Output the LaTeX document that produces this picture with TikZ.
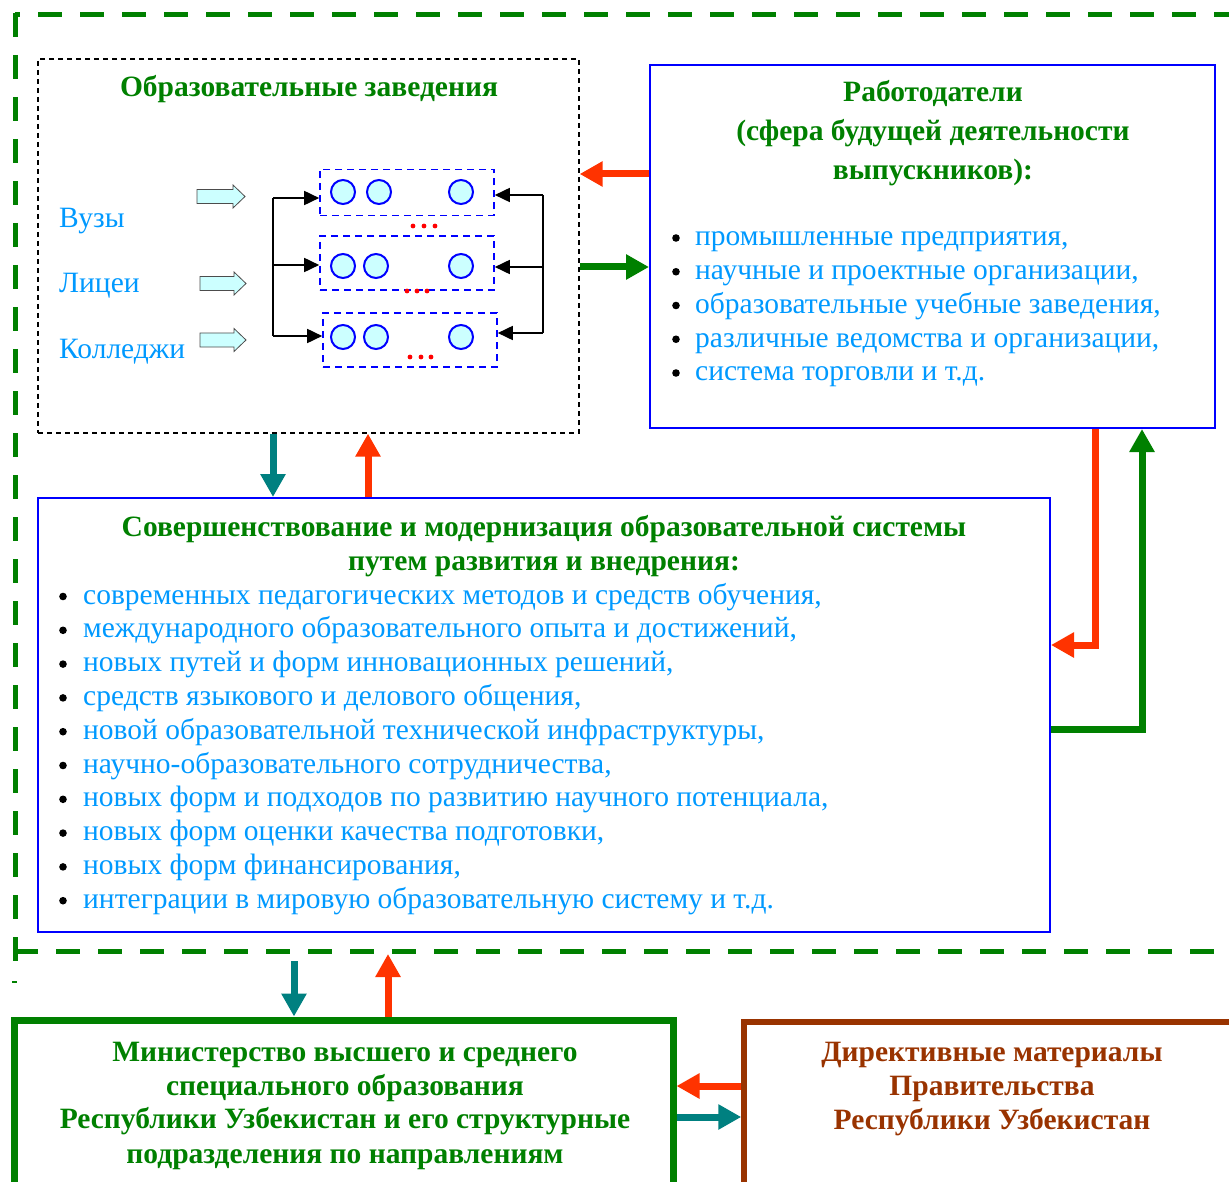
\documentclass[tikz,border=0pt]{standalone}
\usepackage{fontspec}
\setmainfont{Liberation Serif}
\usetikzlibrary{arrows.meta,calc}
\definecolor{dgreen}{RGB}{0,128,0}
\definecolor{tblue}{RGB}{0,153,255}
\definecolor{ared}{RGB}{255,51,0}
\definecolor{tealc}{RGB}{0,128,128}
\definecolor{brownc}{RGB}{153,51,0}
\definecolor{lcyan}{RGB}{204,255,255}
\begin{document}
\begin{tikzpicture}[x=1pt,y=-1pt,
  txt/.style={font=\fontsize{29.5}{34}\selectfont, text=tblue, inner sep=0pt, anchor=base west},
  ttl/.style={font=\fontsize{29.5}{34}\selectfont\bfseries, text=dgreen, inner sep=0pt, anchor=base},
  bigarr/.style={line width=7pt, -{Triangle[length=23pt,width=24pt]}},
  smallarr/.style={line width=1.7pt, -{Triangle[length=15pt,width=14pt]}},
  outer/.style={draw=dgreen, line width=5pt, dash pattern=on 24pt off 18pt},
  sbox/.style={draw=blue, line width=1.6pt, dash pattern=on 7pt off 5pt, minimum width=174pt, inner sep=0pt},
  circ/.style={circle, draw=blue, line width=2pt, fill=lcyan, minimum size=24pt, inner sep=0pt},
  bul/.style={fill=black}
]
\useasboundingbox (0,0) rectangle (1229,1182);

% outer dashed frame
\draw[outer] (15,13) -- (15,963);
\draw[outer, dash phase=19pt] (15,15) -- (1229,15);
\draw[outer] (14,951) -- (1229,951);
\draw[dgreen, line width=1.2pt] (12,982) -- (17,982);

% main boxes
\node[draw=black, line width=1.3pt, dash pattern=on 5pt off 4pt, minimum width=541pt, minimum height=374pt, inner sep=0pt] (edu) at (308.5,246) {};
\node[draw=blue, line width=2pt, minimum width=565pt, minimum height=363pt, inner sep=0pt] (emp) at (932.5,246.5) {};
\node[draw=blue, line width=2pt, minimum width=1012pt, minimum height=434pt, inner sep=0pt] (imp) at (544,715) {};
\node[draw=dgreen, line width=7pt, minimum width=659pt, minimum height=180pt, inner sep=0pt] (min) at (343.5,1110) {};
\node[draw=brownc, line width=5.5pt, minimum width=516pt, minimum height=178pt, inner sep=0pt] (dir) at (1002,1111) {};

% education block
\node[ttl] (edut) at (309,97) {Образовательные заведения};
\node[txt] (vuz) at (59,228) {Вузы};
\node[txt] (lic) at (59,293) {Лицеи};
\node[txt] (kol) at (59,359) {Колледжи};
\foreach \x/\y/\l in {197/196.5/48, 200/283.5/46, 200/340/46}{
  \pgfmathsetmacro{\b}{\l-12}
  \draw[fill=lcyan, draw=black!70, line width=0.8pt] (\x,\y-7) -- ++(\b,0) -- ++(0,-4.5) -- ++(12,11.5) -- ++(-12,11.5) -- ++(0,-4.5) -- ++(-\b,0) -- cycle;
}
\node[sbox, minimum height=46pt] (b1) at (407,192.5) {};
\node[sbox, minimum height=54pt] (b2) at (407,263) {};
\node[sbox, minimum height=54pt] (b3) at (410,340) {};
\node[circ] (c11) at (343,192) {};
\node[circ] (c12) at (379,192) {};
\node[circ] (c13) at (461,192) {};
\node[circ] (c21) at (343,266) {};
\node[circ] (c22) at (376,266) {};
\node[circ] (c23) at (461,266) {};
\node[circ] (c31) at (343,337) {};
\node[circ] (c32) at (376,337) {};
\node[circ] (c33) at (461,337) {};
\foreach \x/\y in {413/226,424/226,435/226,407/291,417/291,427/291,410/357,421/357,431/357}
  \fill[red] (\x,\y) circle (2.4pt);
\coordinate (lt) at (273,198);
\coordinate (lb) at (273,336);
\coordinate (rt) at (543,195);
\coordinate (rb) at (543,333);
\draw[line width=1.7pt] (lt) -- (lb);
\draw[line width=1.7pt] (rt) -- (rb);
\draw[smallarr] (lt) -- (b1.west |- lt);
\draw[smallarr] (273,265) -- (b2.west |- 0,265);
\draw[smallarr] (lb) -- (b3.west |- lb);
\draw[smallarr] (rt) -- (b1.east |- rt);
\draw[smallarr] (543,267) -- (b2.east |- 0,267);
\draw[smallarr] (rb) -- (b3.east |- rb);

% employers
\node[ttl] (empt1) at (933,102) {Работодатели};
\node[ttl] (empt2) at (933,141) {(сфера будущей деятельности};
\node[ttl] (empt3) at (933,180) {выпускников):};
\foreach \t [count=\i] in {{промышленные предприятия,},{научные и проектные организации,},{образовательные учебные заведения,},{различные ведомства и организации,},{система торговли и т.д.}}{
  \pgfmathsetmacro{\yy}{237+33.75*(\i-1)}
  \fill[bul] (676,\yy+1) circle (3.8pt);
  \node[txt] (e\i) at (695,\yy+9) {\t};
}

% improvement
\node[ttl] (impt1) at (544,536) {Совершенствование и модернизация образовательной системы};
\node[ttl] (impt2) at (544,570) {путем развития и внедрения:};
\foreach \t [count=\i] in {{современных педагогических методов и средств обучения,},{международного образовательного опыта и достижений,},{новых путей и форм инновационных решений,},{средств языкового и делового общения,},{новой образовательной технической инфраструктуры,},{научно-образовательного сотрудничества,},{новых форм и подходов по развитию научного потенциала,},{новых форм оценки качества подготовки,},{новых форм финансирования,},{интеграции в мировую образовательную систему и т.д.}}{
  \pgfmathsetmacro{\yy}{595+33.8*(\i-1)}
  \fill[bul] (63,\yy+1.5) circle (3.8pt);
  \node[txt] (m\i) at (83,\yy+9) {\t};
}

% ministry
\node[ttl] (mi1) at (345,1061) {Министерство высшего и среднего};
\node[ttl] (mi2) at (345,1095) {специального образования};
\node[ttl] (mi3) at (345,1128) {Республики Узбекистан и его структурные};
\node[ttl] (mi4) at (345,1163) {подразделения по направлениям};
% directive
\node[ttl, text=brownc] (di1) at (992,1061) {Директивные материалы};
\node[ttl, text=brownc] (di2) at (992,1095) {Правительства};
\node[ttl, text=brownc] (di3) at (992,1129) {Республики Узбекистан};

% connectors
\draw[bigarr, ared] (emp.west |- 0,174) -- (edu.east |- 0,174);
\draw[bigarr, dgreen] (edu.east |- 0,267) -- (emp.west |- 0,267);
\draw[bigarr, tealc] (edu.south -| 273,0) -- (imp.north -| 273,0);
\draw[bigarr, ared] (imp.north -| 368,0) -- (edu.south -| 368,0);
\draw[bigarr, ared] (emp.south -| 1095,0) |- (imp.east |- 0,645);
\draw[bigarr, dgreen] (imp.east |- 0,729) -| (emp.south -| 1142,0);
\coordinate (fd) at (294,961);
\coordinate (fu) at (388,954);
\draw[bigarr, tealc] (fd) -- (min.north -| fd);
\draw[bigarr, ared] (min.north -| fu) -- (fu);
\draw[bigarr, ared] (dir.west |- 0,1086) -- (min.east |- 0,1086);
\draw[bigarr, tealc] (min.east |- 0,1117) -- (dir.west |- 0,1117);
\end{tikzpicture}
\end{document}
